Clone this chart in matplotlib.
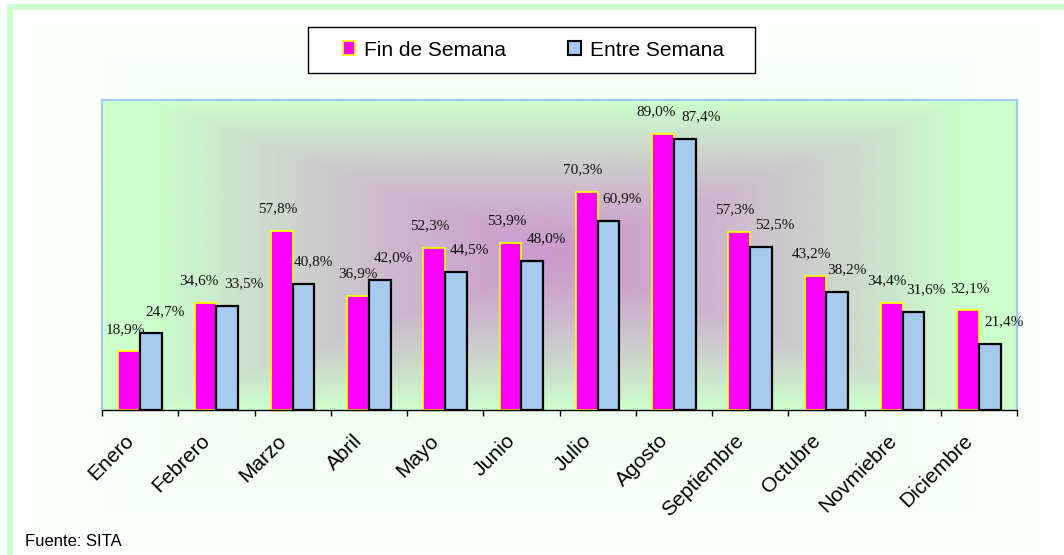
import numpy as np
import matplotlib
matplotlib.use('Agg')
import matplotlib.pyplot as plt
import matplotlib.transforms as mtransforms
from matplotlib.patches import Patch, Rectangle
from matplotlib.colors import to_rgb

meses = ['Enero', 'Febrero', 'Marzo', 'Abril', 'Mayo', 'Junio', 'Julio',
         'Agosto', 'Septiembre', 'Octubre', 'Novmiebre', 'Diciembre']
fin_semana = [18.9, 34.6, 57.8, 36.9, 52.3, 53.9, 70.3, 89.0, 57.3, 43.2, 34.4, 32.1]
entre_semana = [24.7, 33.5, 40.8, 42.0, 44.5, 48.0, 60.9, 87.4, 52.5, 38.2, 31.6, 21.4]
series = ['Fin de Semana', 'Entre Semana']

plt.rcParams['font.family'] = ['Liberation Sans', 'DejaVu Sans']

W, H = 1064, 555
fig = plt.figure(figsize=(W / 100, H / 100), dpi=100)


def path_gradient(nx, ny, c_edge, c_mid, xs=1.0, gamma=1.0):
    # rectangular "from centre" gradient like the office fill
    xx = np.abs(np.linspace(-1, 1, nx))[None, :] * xs
    yy = np.abs(np.linspace(-1, 1, ny))[:, None]
    t = (np.clip(np.maximum(xx, yy), 0, 1) ** gamma)[..., None]
    e = np.array(to_rgb(c_edge))
    m = np.array(to_rgb(c_mid))
    return e * t + m * (1 - t)


# chart area background + green frame
bg = fig.add_axes([0, 0, 1, 1], zorder=-2)
bg.imshow(path_gradient(400, 200, '#FFFFFF', '#E2FFE2'), aspect='auto',
          extent=[10, W + 10, H + 10, 7], interpolation='bilinear')
bg.set_xlim(0, W)
bg.set_ylim(H, 0)
bg.plot([10.3, 10.3, W + 5], [H + 5, 7, 7], color='#CCFFCC', lw=4.3,
        solid_joinstyle='round')
bg.axis('off')

# plot area
ax = fig.add_axes([102 / W, 1 - 410 / H, 915 / W, 310 / H], zorder=1)
x = np.arange(len(meses))
w = 0.285
ax.imshow(path_gradient(300, 150, '#CCFFCC', '#CC99CC', xs=1.12, gamma=1.3),
          aspect='auto', extent=[-0.5, 11.5, 0, 100],
          interpolation='bilinear', zorder=0)

ax.bar(x - w / 2, fin_semana, w, color='#FF00FF', edgecolor='#FFFF00',
       linewidth=1.3, zorder=2)
ax.bar(x + w / 2, entre_semana, w, color='#A6CAF0', edgecolor='black',
       linewidth=1.6, zorder=2)

ax.set_xlim(-0.5, 11.5)
ax.set_ylim(0, 100)
ax.set_yticks([])
ax.set_xticks(x)
ax.set_xticklabels(meses, rotation=45, ha='right', va='center',
                   rotation_mode='anchor', fontsize=15)
ax.tick_params(axis='x', which='major', length=0, pad=20)
ax.set_xticks(np.arange(-0.5, 12, 1), minor=True)
ax.tick_params(axis='x', which='minor', length=4, width=1, color='black',
               direction='out')
shift = mtransforms.ScaledTranslation(-0.09, 0, fig.dpi_scale_trans)
for tk in ax.xaxis.get_major_ticks():
    tk.label1.set_transform(tk.label1.get_transform() + shift)
for s in ['left', 'top', 'right']:
    ax.spines[s].set_color('#A4C8F0')
    ax.spines[s].set_linewidth(1.6)
ax.spines['bottom'].set_color('black')
ax.spines['bottom'].set_linewidth(1)
ax.spines['bottom'].set_zorder(3)

# value labels; neighbours that would touch are pushed apart sideways
renderer = fig.canvas.get_renderer()
prev = None
for i in range(len(meses)):
    for val, xpos, dx in [(fin_semana[i], x[i] - w / 2, -3),
                          (entre_semana[i], x[i] + w / 2, 10)]:
        t = ax.annotate(f'{val:.1f}%'.replace('.', ','), (xpos, val),
                        xytext=(dx, 16), textcoords='offset points',
                        ha='center', va='center', fontsize=11,
                        family='Liberation Serif', color='#111111')
        if prev is not None:
            nb = t.get_window_extent(renderer)
            pb = prev.get_window_extent(renderer)
            need = pb.x1 - nb.x0 + 5
            if need > 0 and nb.y0 < pb.y1 and pb.y0 < nb.y1:
                half = need / 2 * 0.72
                px, py = prev.get_position()
                prev.set_position((px - half, py))
                tx, ty = t.get_position()
                t.set_position((tx + half, ty))
        prev = t

# legend
fig.patches.append(Rectangle((308 / W, 1 - 73 / H), 447 / W, 46 / H,
                             transform=fig.transFigure, facecolor='white',
                             edgecolor='black', linewidth=1, zorder=2))
handles = [Patch(facecolor='#FF00FF', edgecolor='#FFFF00', linewidth=1.3),
           Patch(facecolor='#A6CAF0', edgecolor='black', linewidth=1.5)]
leg = fig.legend(handles, series, loc='center', ncol=2, frameon=False,
                 bbox_to_anchor=(533 / W, 1 - 50 / H), fontsize=15,
                 handlelength=0.62, handleheight=0.62, handletextpad=0.4,
                 columnspacing=3.0)
leg.set_zorder(3)

fig.text(25 / W, 1 - 542 / H, 'Fuente: SITA', fontsize=12, va='center')

fig.savefig('out.png', dpi=100)
